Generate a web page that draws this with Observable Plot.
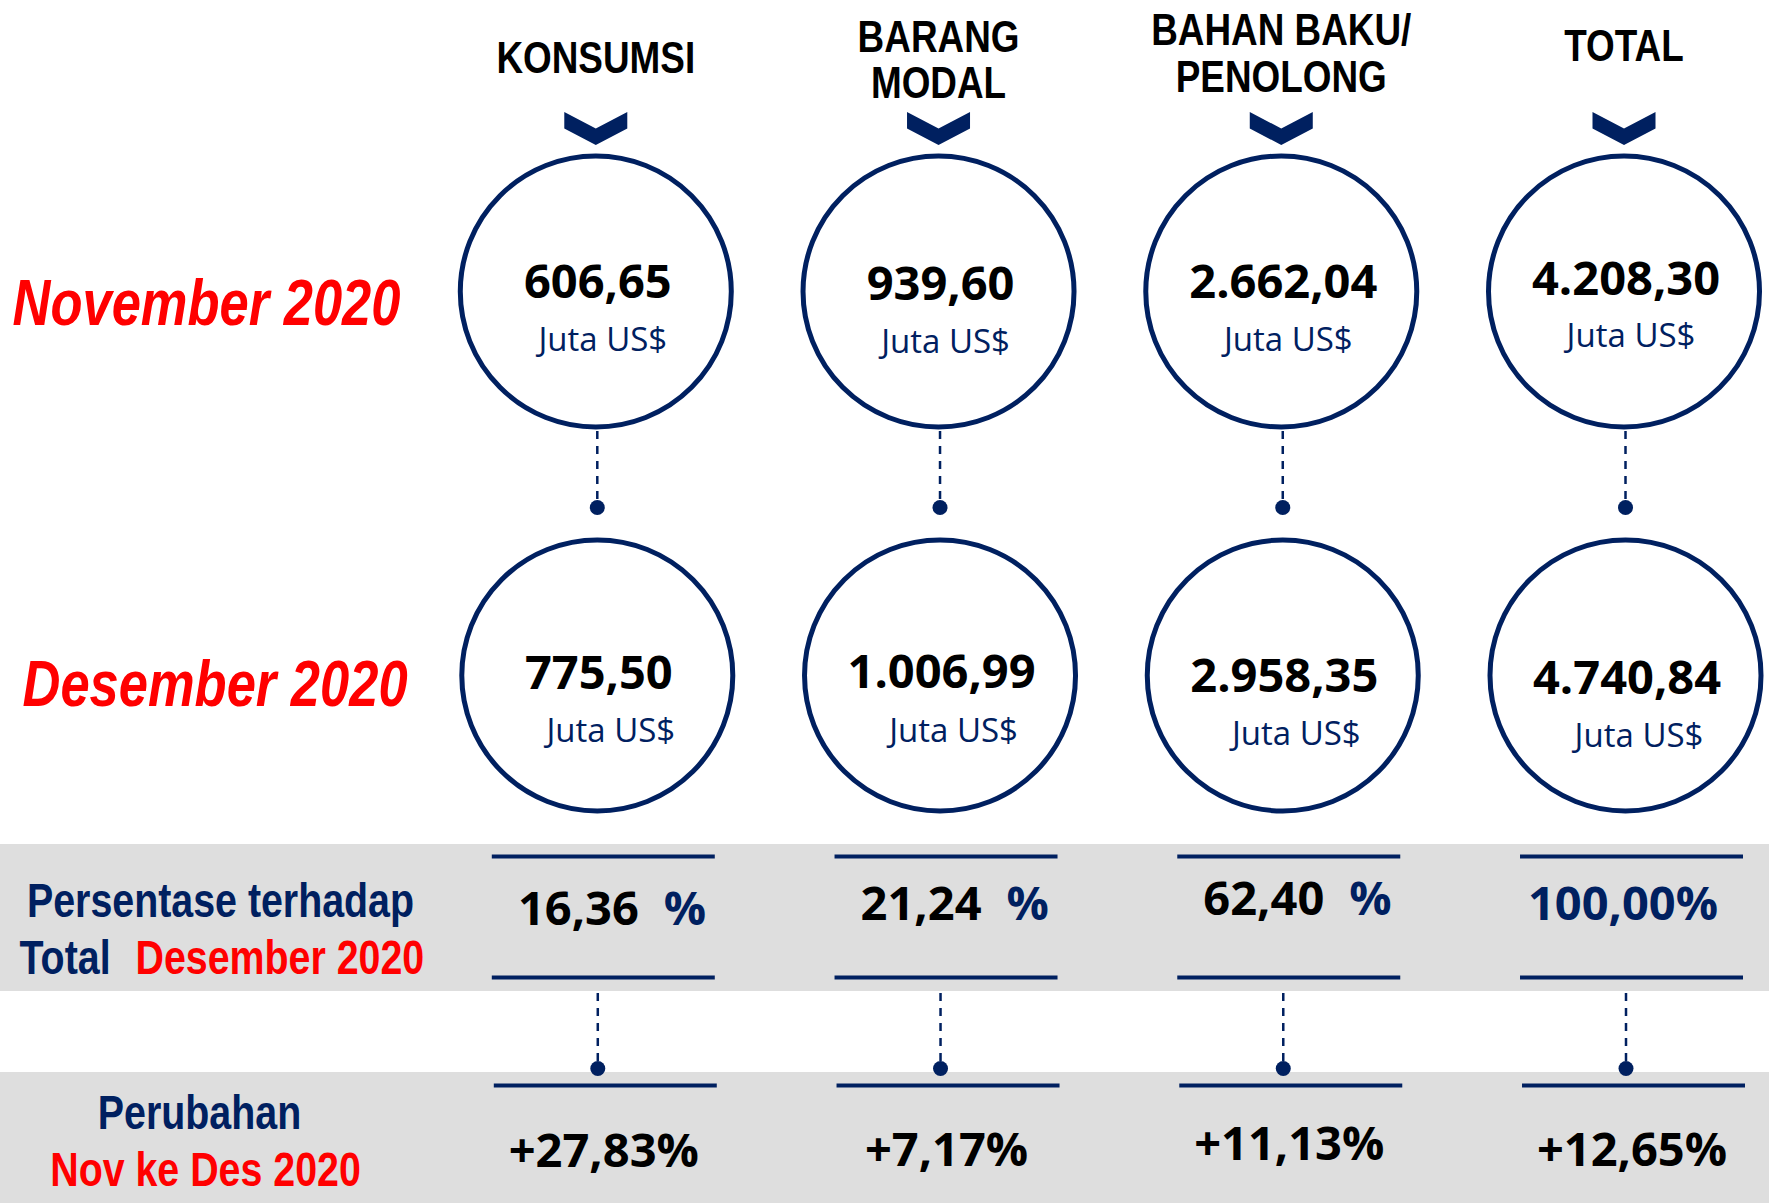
<!DOCTYPE html>
<html><head><meta charset="utf-8">
<script src="https://cdn.jsdelivr.net/npm/d3@7"></script>
<script src="https://cdn.jsdelivr.net/npm/@observablehq/plot@0.6"></script>
<style>html,body{margin:0;padding:0;background:#fff;} #chart svg{display:block;}</style>
</head><body><div id="chart"></div>
<script>
// ---- data ----
const categories = ["KONSUMSI", "BARANG MODAL", "BAHAN BAKU/ PENOLONG", "TOTAL"];
const headerLabels = ["KONSUMSI", "BARANG\nMODAL", "BAHAN BAKU/\nPENOLONG", "TOTAL"];
const periodLabels = ["November 2020", "Desember 2020"];
const novValues = [606.65, 939.60, 2662.04, 4208.30];
const desValues = [775.50, 1006.99, 2958.35, 4740.84];
const shareDes = [16.36, 21.24, 62.40, 100.00];
const changeNovDes = [27.83, 7.17, 11.13, 12.65];
const unitLabel = "Juta US$";
const shareLabel = ["Persentase terhadap", "Total", "Desember 2020"];
const changeLabel = ["Perubahan", "Nov ke Des 2020"];

// ---- styles / layout ----
const NAVY = "#002060", RED = "#ff0000", GRAY = "#dedede";
const NARROW = "'Liberation Sans', Arial, sans-serif"; // condensed horizontally below (Arial Narrow look)
const NARROW_SCALE = 0.82;
const NUM = "'Open Sans', 'Noto Sans', sans-serif";
const L = {
  titleY: [58, 59.5, 53, 46],
  chevron: 128,
  novCircle: 291, desCircle: 675,
  novValueY: [282.5, 284.5, 282.5, 279.5], novUnitY: [340, 342, 340, 336],
  desValueY: [673.5, 672, 676, 678], desUnitY: [731, 730.5, 733.5, 735.5],
  dash1: [431, 500], dot1: 507,
  band1: [844, 991], band1Lines: [856, 977], band1TextY: [909, 904, 899, 904],
  dash2: [993, 1062], dot2: 1068,
  band2: [1072, 1203], band2Line: 1085, band2TextY: [1151, 1150, 1144, 1150],
  nov: 304, des: 685,
  shareL1: 901, shareL2: 958, changeL1: 1113, changeL2: 1170
};

const fmt = d3.formatLocale({decimal: ",", thousands: ".", grouping: [3], currency: ["", ""]}).format(",.2f");

const rows = categories.map((c, i) => ({
  idx: i, cat: c, header: headerLabels[i], nov: novValues[i], des: desValues[i],
  share: shareDes[i], change: changeNovDes[i]
}));
const parts = rows.filter(d => d.cat !== "TOTAL");
const total = rows.filter(d => d.cat === "TOTAL");

const chevron = {
  draw(ctx, size) {
    const r = Math.sqrt(size / Math.PI), h = r * 0.524;
    ctx.moveTo(-r, -h); ctx.lineTo(0, 0); ctx.lineTo(r, -h);
    ctx.lineTo(r, 0); ctx.lineTo(0, h); ctx.lineTo(-r, 0); ctx.closePath();
  }
};

const c = (v) => () => v;
const at = (arr) => (d) => arr[d.idx];
const narrow = {fontFamily: NARROW, fontWeight: 700, ariaLabel: c("narrow-text"), ariaDescription: "narrow-text"};

const chart = Plot.plot({
  width: 1769, height: 1203,
  marginTop: 0, marginRight: 0, marginBottom: 0, marginLeft: 0,
  x: {type: "band", domain: categories, range: [483.8, 1735], paddingInner: 0.3494, paddingOuter: 0, round: false, axis: null},
  y: {type: "linear", domain: [0, 1203], range: [0, 1203], axis: null},
  style: {background: "white", overflow: "visible"},
  marks: [
    // grey bands
    Plot.rect([L.band1, L.band2], {y1: d => d[0], y2: d => d[1], fill: GRAY}),
    // band lines
    Plot.tickY(rows, {x: "cat", y: c(L.band1Lines[0]), stroke: NAVY, strokeWidth: 4, dx: 8}),
    Plot.tickY(rows, {x: "cat", y: c(L.band1Lines[1]), stroke: NAVY, strokeWidth: 4, dx: 8}),
    Plot.tickY(rows, {x: "cat", y: c(L.band2Line), stroke: NAVY, strokeWidth: 4, dx: 10}),
    // dashed connectors
    Plot.ruleX(rows, {x: "cat", y1: c(L.dash1[0]), y2: c(L.dash1[1]), stroke: NAVY, strokeWidth: 2.5, strokeDasharray: "8,7", dx: 1.5}),
    Plot.dot(rows, {x: "cat", y: c(L.dot1), r: 7.5, fill: NAVY, dx: 1.5}),
    Plot.ruleX(rows, {x: "cat", y1: c(L.dash2[0]), y2: c(L.dash2[1]), stroke: NAVY, strokeWidth: 2.5, strokeDasharray: "8,7", dx: 2}),
    Plot.dot(rows, {x: "cat", y: c(L.dot2), r: 7.5, fill: NAVY, dx: 2}),
    // chevrons
    Plot.dot(rows, {x: "cat", y: c(L.chevron), r: 31.5, symbol: chevron, fill: NAVY}),
    // circles
    Plot.dot(rows, {x: "cat", y: c(L.novCircle), r: 135.5, fill: "white", stroke: NAVY, strokeWidth: 5}),
    Plot.dot(rows, {x: "cat", y: c(L.desCircle), r: 135.5, fill: "white", stroke: NAVY, strokeWidth: 5, dx: 1.5}),
    // headers
    Plot.text(rows, {x: "cat", y: at(L.titleY), text: "header", ...narrow, fontSize: 45, lineHeight: 1.03, fill: "black"}),
    // values
    Plot.text(rows, {x: "cat", y: at(L.novValueY), text: d => fmt(d.nov), fontFamily: NUM, fontWeight: 700, fontSize: 47, fill: "black", dx: 2}),
    Plot.text(rows, {x: "cat", y: at(L.novUnitY), text: c(unitLabel), fontFamily: NUM, fontWeight: 400, fontSize: 33, fill: NAVY, dx: 7}),
    Plot.text(rows, {x: "cat", y: at(L.desValueY), text: d => fmt(d.des), fontFamily: NUM, fontWeight: 700, fontSize: 47, fill: "black", dx: 3}),
    Plot.text(rows, {x: "cat", y: at(L.desUnitY), text: c(unitLabel), fontFamily: NUM, fontWeight: 400, fontSize: 33, fill: NAVY, dx: 15}),
    // share of total
    Plot.text(parts, {x: "cat", y: at(L.band1TextY), text: d => fmt(d.share), textAnchor: "end", fontFamily: NUM, fontWeight: 700, fontSize: 47, fill: "black", dx: 43}),
    Plot.text(parts, {x: "cat", y: at(L.band1TextY), text: c("%"), textAnchor: "start", fontFamily: NUM, fontWeight: 700, fontSize: 47, fill: NAVY, dx: 68}),
    Plot.text(total, {x: "cat", y: at(L.band1TextY), text: d => fmt(d.share) + "%", fontFamily: NUM, fontWeight: 700, fontSize: 47, fill: NAVY, dx: -1}),
    // change
    Plot.text(rows, {x: "cat", y: at(L.band2TextY), text: d => "+" + fmt(d.change) + "%", fontFamily: NUM, fontWeight: 700, fontSize: 47, fill: "black", dx: 8}),
    // left labels
    Plot.text([periodLabels[0]], {frameAnchor: "left", y: c(L.nov), text: d => d, textAnchor: "start", dx: 12, ...narrow, fontStyle: "italic", fontSize: 64, fill: RED}),
    Plot.text([periodLabels[1]], {frameAnchor: "left", y: c(L.des), text: d => d, textAnchor: "start", dx: 22, ...narrow, fontStyle: "italic", fontSize: 64, fill: RED}),
    Plot.text([shareLabel[0]], {frameAnchor: "left", y: c(L.shareL1), text: d => d, textAnchor: "middle", dx: 220, ...narrow, fontSize: 48, fill: NAVY}),
    Plot.text([shareLabel[1]], {frameAnchor: "left", y: c(L.shareL2), text: d => d, textAnchor: "start", dx: 19, ...narrow, fontSize: 48, fill: NAVY}),
    Plot.text([shareLabel[2]], {frameAnchor: "left", y: c(L.shareL2), text: d => d, textAnchor: "start", dx: 135, ...narrow, fontSize: 48, fill: RED}),
    Plot.text([changeLabel[0]], {frameAnchor: "left", y: c(L.changeL1), text: d => d, textAnchor: "middle", dx: 199, ...narrow, fontSize: 48, fill: NAVY}),
    Plot.text([changeLabel[1]], {frameAnchor: "left", y: c(L.changeL2), text: d => d, textAnchor: "middle", dx: 205, ...narrow, fontSize: 48, fill: RED})
  ]
});
// give the narrow-text marks an Arial-Narrow-like horizontal condensation
const narrowTexts = new Set();
chart.querySelectorAll('[aria-label="narrow-text"], [aria-description="narrow-text"]').forEach(el => {
  if (el.tagName.toLowerCase() === "text") narrowTexts.add(el);
  else el.querySelectorAll("text").forEach(t => narrowTexts.add(t));
});
narrowTexts.forEach(t => {
  t.setAttribute("transform", (t.getAttribute("transform") || "") + ` scale(${NARROW_SCALE},1)`);
});
document.getElementById("chart").appendChild(chart);
</script></body></html>
